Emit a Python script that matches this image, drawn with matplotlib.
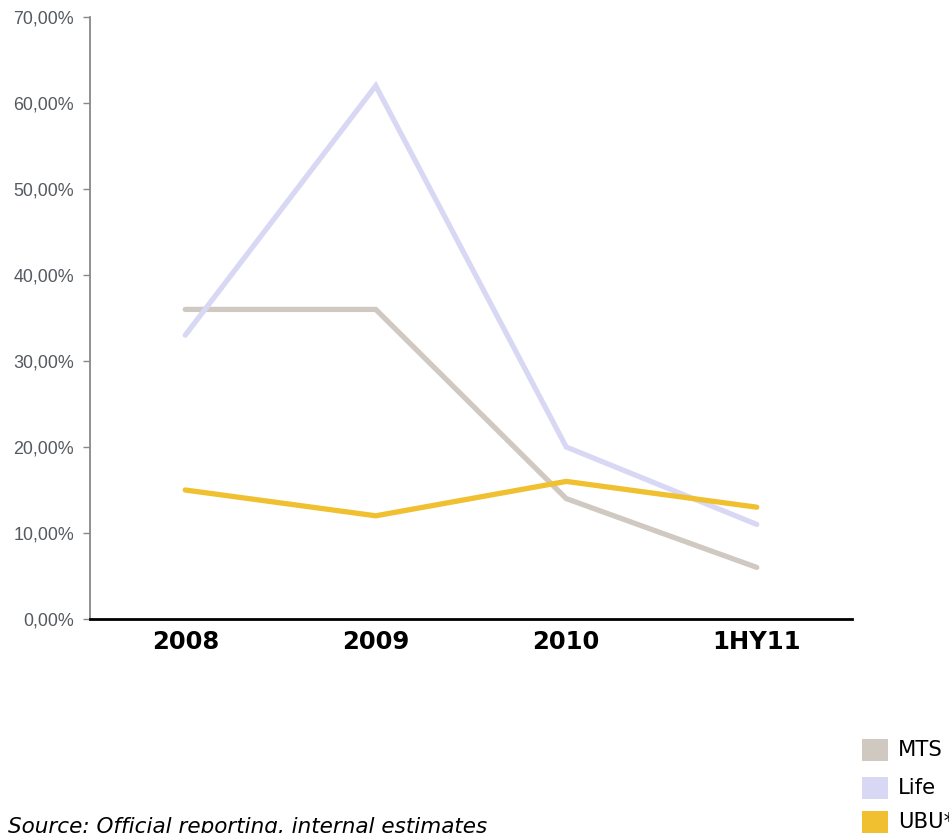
import matplotlib
matplotlib.use("Agg")
import matplotlib.pyplot as plt
from matplotlib.patches import Rectangle
from matplotlib.ticker import FuncFormatter

categories = ["2008", "2009", "2010", "1HY11"]
mts = [36, 36, 14, 6]
life = [33, 62, 20, 11]
ubu = [15, 12, 16, 13]
series_names = ["MTS", "Life", "UBU*"]
colors = ["#D0C9C2", "#D8D8F4", "#F0C030"]
yticks = [0, 10, 20, 30, 40, 50, 60, 70]

W, H = 949, 833
fig = plt.figure(figsize=(W / 100, H / 100), dpi=100)
ax = fig.add_axes([90 / W, 1 - 619 / H, (852 - 90) / W, (619 - 17) / H])

x = range(len(categories))
for vals, c in zip([mts, life, ubu], colors):
    ax.plot(x, vals, color=c, lw=3.8, solid_capstyle="round", solid_joinstyle="miter")

ax.set_xlim(-0.5, len(categories) - 0.5)
ax.set_ylim(0, 70)
ax.set_yticks(yticks)
ax.yaxis.set_major_formatter(FuncFormatter(lambda v, p: f"{v:.2f}".replace(".", ",") + "%"))
ax.set_xticks(list(x))
ax.set_xticklabels(categories, fontweight="bold", fontsize=17.5, family="DejaVu Sans")
ax.tick_params(axis="x", length=0, pad=8)
ax.tick_params(axis="y", length=5, width=1, color="#888888", labelcolor="#555a60", pad=6.5)
for lab in ax.get_yticklabels():
    lab.set_family("Liberation Sans")
    lab.set_fontsize(12.9)

ax.spines["top"].set_visible(False)
ax.spines["right"].set_visible(False)
ax.spines["left"].set_color("#888888")
ax.spines["left"].set_linewidth(1.3)
ax.spines["bottom"].set_color("black")
ax.spines["bottom"].set_linewidth(2)

# legend
ly = [750, 788, 822]
for name, c, yy in zip(series_names, colors, ly):
    fig.patches.append(Rectangle((862 / W, 1 - (yy + 11) / H), 26 / W, 22 / H,
                                 transform=fig.transFigure, facecolor=c, edgecolor="none"))
    fig.text(898 / W, 1 - yy / H, name, fontsize=15.2, va="center", ha="left",
             family="DejaVu Sans", color="black")

fig.text(8 / W, 1 - 827 / H, "Source: Official reporting, internal estimates",
         fontsize=15.5, style="italic", va="center", ha="left", family="DejaVu Sans")

fig.savefig("out.png", dpi=100)
